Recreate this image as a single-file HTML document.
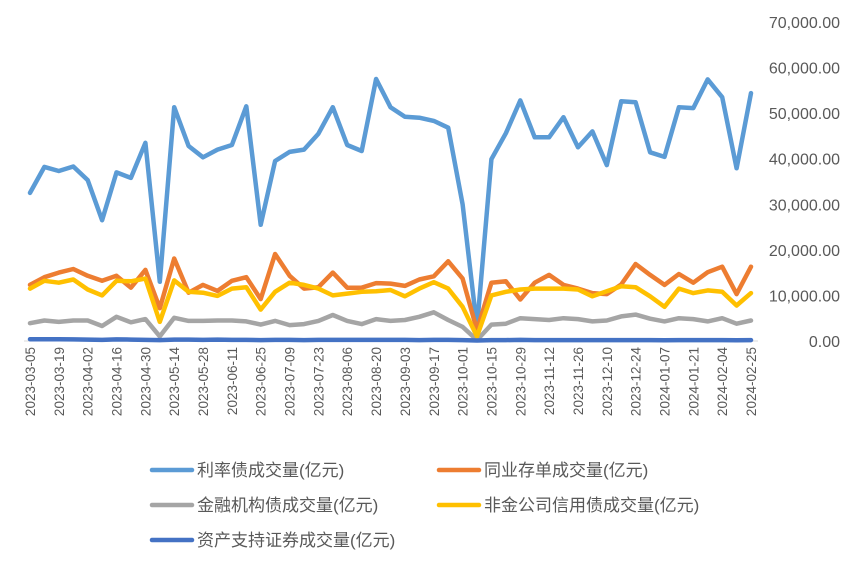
<!DOCTYPE html>
<html><head><meta charset="utf-8"><style>
body{margin:0;background:#fff;}
svg text{font-family:"Liberation Sans","Noto Sans CJK SC",sans-serif;fill:#595959;}
</style></head><body>
<svg id="chart" width="864" height="569" xmlns="http://www.w3.org/2000/svg">
<g id="axes"></g>
<g id="series"></g>
<g id="legend"></g>
</svg>
<script>
const categories = (function(){const out=[];let d=new Date(Date.UTC(2023,2,5));while(out.length<51){const s=d.toISOString().slice(0,10);if(s!=='2024-02-11')out.push(s);d=new Date(d.getTime()+7*864e5);}return out;})();
const yTicks = [0,10000,20000,30000,40000,50000,60000,70000];
const yTickLabels = ["0.00","10,000.00","20,000.00","30,000.00","40,000.00","50,000.00","60,000.00","70,000.00"];
const rateBonds = [32500,38200,37300,38300,35300,26500,37000,35800,43500,13000,51300,42800,40300,42000,43000,51500,25500,39500,41500,42000,45500,51300,43000,41700,57500,51300,49200,49000,48300,46800,30000,3000,39900,45600,52800,44700,44700,49100,42500,46000,38600,52600,52400,41400,40400,51300,51100,57400,53500,37900,54400];
const ncds = [12300,14000,15000,15800,14300,13200,14300,11700,15600,7200,18100,10600,12300,11000,13200,14000,9200,19100,14300,11500,11800,15000,11700,11700,12700,12600,12100,13500,14200,17500,13700,2400,12800,13100,9100,12800,14500,12300,11500,10500,10300,12400,16900,14500,12300,14700,12800,15100,16300,10300,16300];
const finBonds = [3900,4500,4200,4500,4500,3300,5300,4100,4800,1000,5100,4400,4400,4500,4500,4300,3600,4400,3500,3700,4400,5700,4400,3700,4800,4400,4600,5300,6300,4600,3100,200,3600,3800,5000,4800,4600,5000,4800,4300,4500,5400,5800,4900,4300,5000,4800,4300,5000,3800,4500];
const creditBonds = [11500,13200,12800,13500,11300,10000,13200,13100,13700,4200,13300,10800,10600,9900,11500,11800,6900,10800,12800,12300,11500,10000,10400,10800,10900,11200,9800,11500,12900,11500,7500,1000,10000,10800,11300,11500,11500,11500,11300,9800,10900,12000,11800,9800,7500,11500,10500,11100,10800,7800,10500];
const abs = [400,400,400,350,300,250,350,300,250,200,300,300,250,300,250,250,200,250,250,200,250,250,250,250,250,250,250,200,250,250,200,100,200,200,250,200,200,200,200,200,200,200,200,200,150,200,200,200,200,150,200];
const seriesNames = ["利率债成交量(亿元)","同业存单成交量(亿元)","金融机构债成交量(亿元)","非金公司信用债成交量(亿元)","资产支持证券成交量(亿元)"];
const seriesColors = ["#5B9BD5","#ED7D31","#A5A5A5","#FFC000","#4472C4"];
const seriesKeys = ["rate-bonds","ncds","financial-bonds","credit-bonds","abs"];

const NS="http://www.w3.org/2000/svg";
const X0=30,X1=751,Y0=341,Y1=22,YMAX=70000;
function xs(i){return X0+i*(X1-X0)/(categories.length-1);}
function ys(v){return Y0-(v/YMAX)*(Y0-Y1);}
function mk(tag,attrs,parent){const e=document.createElementNS(NS,tag);for(const k in attrs)e.setAttribute(k,attrs[k]);parent.appendChild(e);return e;}
const axes=document.getElementById('axes'),ser=document.getElementById('series'),leg=document.getElementById('legend');

const base=mk('line',{x1:24,x2:758,y1:Y0,y2:Y0,stroke:'#d9d9d9','stroke-width':1},axes);


yTicks.forEach((v,i)=>{
  const t=mk('text',{x:840,y:ys(v)+6,'text-anchor':'end','font-size':16},axes);
  t.textContent=yTickLabels[i];
  
  
});
categories.forEach((c,i)=>{
  if(i%2) return;
  const x=xs(i)+5;
  const t=mk('text',{x:0,y:0,'text-anchor':'end','font-size':13.5,transform:`translate(${x},347) rotate(-90)`},axes);
  t.textContent=c;
  
  
});
const allSeries=[rateBonds,ncds,finBonds,creditBonds,abs];
const drawOrder=[0,1,2,3,4];
drawOrder.forEach(si=>{
  const pts=allSeries[si].map((v,i)=>xs(i).toFixed(1)+','+ys(v).toFixed(1)).join(' ');
  const p=mk('polyline',{points:pts,fill:'none',stroke:seriesColors[si],'stroke-width':4.5,'stroke-linejoin':'round','stroke-linecap':'round'},ser);
  
  
});
const legPos=[[150,470],[437,470],[150,505],[437,505],[150,540]];
seriesNames.forEach((n,i)=>{
  const [x,y]=legPos[i];
  const g=mk('g',{},leg);
  
  
  mk('line',{x1:x+2,x2:x+42,y1:y,y2:y,stroke:seriesColors[i],'stroke-width':4.5,'stroke-linecap':'round'},g);
  const t=mk('text',{x:x+47,y:y+6,'font-size':17},g);
  t.textContent=n;
});
</script>
</body></html>
